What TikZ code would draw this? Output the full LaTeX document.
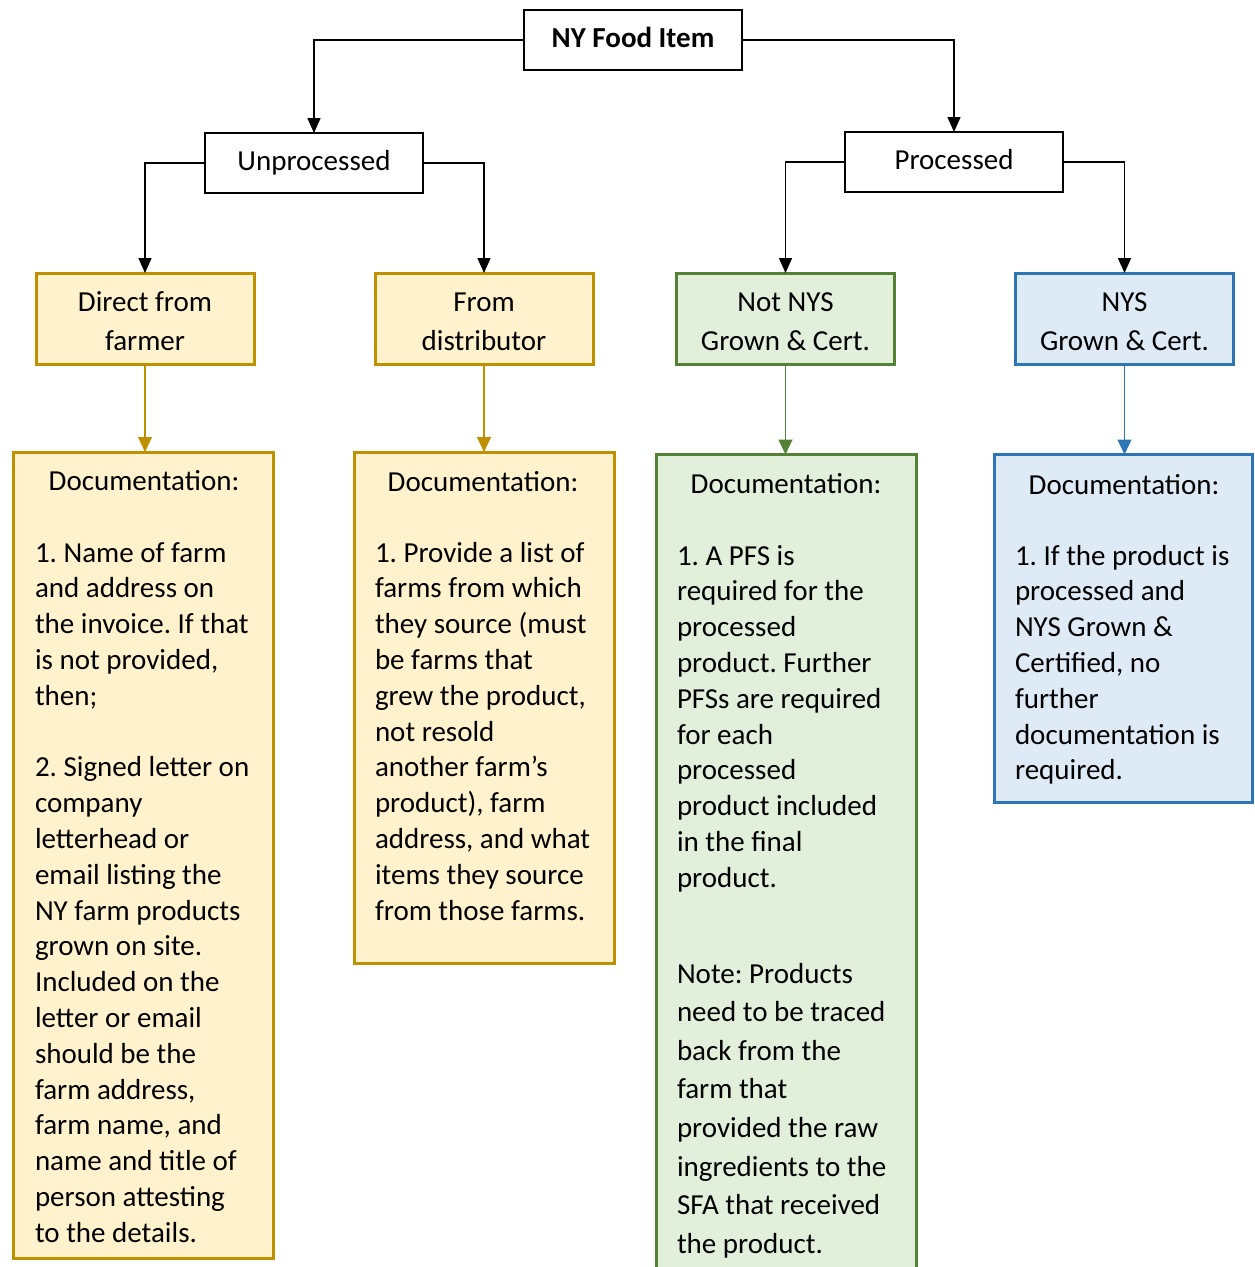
\documentclass[tikz,border=0pt]{standalone}
\usepackage{fontspec}
\setmainfont{Carlito}
\usetikzlibrary{arrows.meta}
\definecolor{ybord}{HTML}{BF9000}
\definecolor{yfill}{HTML}{FFF2CC}
\definecolor{gbord}{HTML}{548235}
\definecolor{gfill}{HTML}{E2EFDA}
\definecolor{bbord}{HTML}{2E75B6}
\definecolor{bfill}{HTML}{DEEBF7}
\newcommand\topstrut{\rule{0pt}{32pt}}
\newcommand\botstrut{\rule[-7pt]{0pt}{7pt}}
\frenchspacing
\begin{document}
\begin{tikzpicture}[x=1pt,y=-1pt,
  every node/.style={inner sep=0pt, outer sep=0pt},
  blackbox/.style={draw=black, line width=2pt, fill=white, minimum width=218pt, minimum height=60pt, text height=21pt, text depth=7pt, font=\fontsize{29}{36}\selectfont},
  catbox/.style={line width=3pt, minimum width=218pt, minimum height=91pt, align=center, font=\fontsize{29}{39}\selectfont},
  ycat/.style={catbox, draw=ybord, fill=yfill},
  gcat/.style={catbox, draw=gbord, fill=gfill},
  bcat/.style={catbox, draw=bbord, fill=bfill},
  docbox/.style={line width=3pt},
  ydoc/.style={docbox, draw=ybord, fill=yfill},
  gdoc/.style={docbox, draw=gbord, fill=gfill},
  bdoc/.style={docbox, draw=bbord, fill=bfill},
  doctitle/.style={anchor=base, font=\fontsize{29}{36}\selectfont},
  doctext/.style={anchor=base west, font=\fontsize{29}{35.8}\selectfont},
  notetext/.style={anchor=base west, font=\fontsize{29}{38.6}\selectfont},
  conn/.style={draw=black, line width=1.5pt, -{Triangle[width=13pt,length=15pt]}},
  carrow/.style={line width=1.1pt, -{Triangle[width=14pt,length=15pt]}}
]
\useasboundingbox (0,0) rectangle (1254,1267);
\clip (0,0) rectangle (1254,1267);

% top level boxes
\node[blackbox, font=\fontsize{29}{36}\selectfont\bfseries] (ny) at (633,40) {NY Food Item};
\node[blackbox] (un) at (314,163) {Unprocessed};
\node[blackbox] (pr) at (954,162) {Processed};

% category boxes
\node[ycat] (df) at (145,318.5) {\topstrut Direct from\\farmer\botstrut};
\node[ycat] (fd) at (484,318.5) {\topstrut From\\distributor\botstrut};
\node[gcat] (nn) at (785.5,318.5) {\topstrut Not NYS\\Grown \& Cert.\botstrut};
\node[bcat] (ns) at (1124.5,318.5) {\topstrut NYS\\Grown \& Cert.\botstrut};

% documentation boxes
\node[ydoc, minimum width=260pt, minimum height=806pt] (d1) at (143.5,855) {};
\node[ydoc, minimum width=259.5pt, minimum height=511pt] (d2) at (484.25,707.5) {};
\node[gdoc, minimum width=259.5pt, minimum height=845.5pt] (d3) at (786.25,877.25) {};
\node[bdoc, minimum width=257.5pt, minimum height=347.5pt] (d4) at (1123.25,628.25) {};

% connectors
\draw[conn] (ny.west) -| (un.north);
\draw[conn] (ny.east) -| (pr.north);
\draw[conn] (un.west) -| (df.north);
\draw[conn] (un.east) -| (fd.north);
\draw[conn] (pr.west) -| (nn.north);
\draw[conn] (pr.east) -| (ns.north);
\draw[carrow, draw=ybord, fill=ybord] (df.south) -- (df.south |- d1.north);
\draw[carrow, draw=ybord, fill=ybord] (fd.south) -- (fd.south |- d2.north);
\draw[carrow, draw=gbord, fill=gbord] (nn.south) -- (nn.south |- d3.north);
\draw[carrow, draw=bbord, fill=bbord] (ns.south) -- (ns.south |- d4.north);

% documentation texts
\node[doctitle] (d1h) at (144,490) {Documentation:};
\node[doctext] (d1t) at (35,562) {\begin{tabular}[t]{@{}l@{}}
1. Name of farm\\
and address on\\
the invoice. If that\\
is not provided,\\
then;\\
\\
2. Signed letter on\\
company\\
letterhead or\\
email listing the\\
NY farm products\\
grown on site.\\
Included on the\\
letter or email\\
should be the\\
farm address,\\
farm name, and\\
name and title of\\
person attesting\\
to the details.
\end{tabular}};

\node[doctitle] (d2h) at (483,491) {Documentation:};
\node[doctext] (d2t) at (375,562) {\begin{tabular}[t]{@{}l@{}}
1. Provide a list of\\
farms from which\\
they source (must\\
be farms that\\
grew the product,\\
not resold\\
another farm’s\\
product), farm\\
address, and what\\
items they source\\
from those farms.
\end{tabular}};

\node[doctitle] (d3h) at (786,493) {Documentation:};
\node[doctext] (d3t) at (677,565) {\begin{tabular}[t]{@{}l@{}}
1. A PFS is\\
required for the\\
processed\\
product. Further\\
PFSs are required\\
for each\\
processed\\
product included\\
in the final\\
product.
\end{tabular}};
\node[notetext] (d3n) at (677,983) {\begin{tabular}[t]{@{}l@{}}
Note: Products\\
need to be traced\\
back from the\\
farm that\\
provided the raw\\
ingredients to the\\
SFA that received\\
the product.
\end{tabular}};

\node[doctitle] (d4h) at (1124,494) {Documentation:};
\node[doctext] (d4t) at (1015,565) {\begin{tabular}[t]{@{}l@{}}
1. If the product is\\
processed and\\
NYS Grown \&\\
Certified, no\\
further\\
documentation is\\
required.
\end{tabular}};
\end{tikzpicture}
\end{document}
